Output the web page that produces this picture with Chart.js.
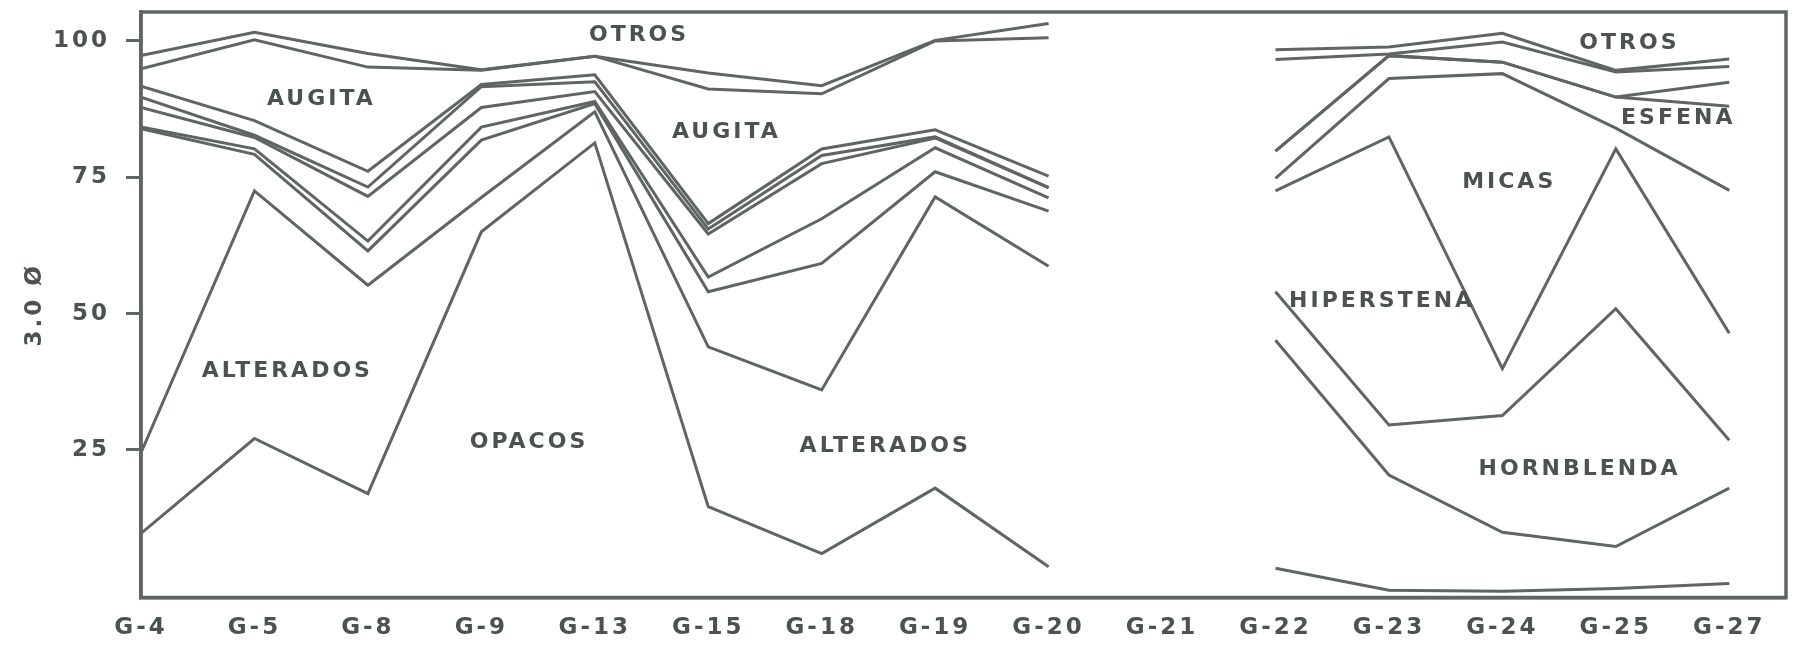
<!DOCTYPE html>
<html>
<head>
<meta charset="utf-8">
<script src="https://cdn.jsdelivr.net/npm/chart.js@4.4.0/dist/chart.umd.min.js"></script>
<style>
html,body{margin:0;padding:0;background:#ffffff;}
#wrap{width:1796px;height:649px;position:relative;}
</style>
</head>
<body>
<div id="wrap"><canvas id="c"></canvas></div>
<script>
// ---- data ----
const categories = ['G-4','G-5','G-8','G-9','G-13','G-15','G-18','G-19','G-20','G-21','G-22','G-23','G-24','G-25','G-27'];
const yTickValues = [25, 50, 75, 100];

// cumulative boundary lines (top to bottom); G-21 has no sample
const line1 = [97.3, 101.6, 97.7, 94.7, 97.2, 94.1, 91.8, 100.1, 103.2, null, 98.4, 98.9, 101.4, 94.6, 96.7];
const line2 = [94.9, 100.2, 95.2, 94.6, 97.2, 91.2, 90.3, 100.0, 100.6, null, 96.6, 97.6, 99.8, 94.3, 95.3];
const line3 = [91.7, 85.4, 76.1, 92.0, 93.8, 66.5, 80.2, 83.7, 75.2, null, 79.8, 97.3, 96.1, 89.7, 92.4];
const line4 = [89.7, 82.7, 73.2, 91.6, 92.5, 65.5, 79.0, 82.4, 73.1, null, 79.8, 97.3, 96.1, 89.7, 88.0];
const line5 = [87.8, 82.3, 71.5, 87.8, 90.7, 64.6, 77.5, 82.2, 73.1, null, 74.8, 93.1, 94.0, 84.0, 72.6];
const line6 = [84.2, 80.2, 63.3, 84.2, 88.9, 56.7, 67.4, 80.4, 71.2, null, 72.5, 82.4, 39.9, 80.2, 46.4];
const line7 = [83.9, 79.2, 61.5, 81.8, 88.5, 54.0, 59.2, 76.0, 68.8, null, 54.0, 29.6, 31.3, 50.9, 26.8];
const line8 = [24.5, 72.5, 55.2, 71.3, 87.0, 43.9, 36.0, 71.4, 58.7, null, 45.1, 20.4, 9.9, 7.3, 18.0];
const line9 = [9.7, 27.1, 17.0, 65.0, 81.3, 14.6, 6.0, 18.0, 3.6, null, 3.3, -0.7, -0.9, -0.4, 0.5];

const seriesList = [line1, line2, line3, line4, line5, line6, line7, line8, line9];

// area names, placed in data coordinates (category index, value)
const areaNames = ['OTROS','AUGITA','AUGITA','ALTERADOS','OPACOS','ALTERADOS','OTROS','ESFENA','MICAS','HIPERSTENA','HORNBLENDA'];
const areaNameX = [4.39, 1.59, 5.16, 1.29, 3.42, 6.56, 13.12, 13.55, 12.06, 10.94, 12.68];
const areaNameY = [101.0, 89.3, 83.25, 39.45, 26.35, 25.75, 99.65, 85.8, 74.15, 52.3, 21.5];

// ---- style ----
const INK = '#5f6565';
const TEXT = '#4c5252';
const FONT = {family: '"DejaVu Sans", sans-serif', size: 23, weight: 'bold'};

const datasets = seriesList.map((s, k) => ({
  label: 'line' + (k + 1),
  data: s.map((v, i) => ({x: i, y: v})),
  borderColor: INK,
  borderWidth: 3,
  pointRadius: 0,
  fill: false,
  tension: 0,
  spanGaps: false
}));

const framePlugin = {
  id: 'frameAndNames',
  beforeDraw(chart) {
    chart.ctx.letterSpacing = '3px';
  },
  afterDatasetsDraw(chart) {
    const {ctx, chartArea: a, scales} = chart;
    ctx.save();
    ctx.strokeStyle = INK;
    ctx.lineWidth = 3.5;
    ctx.strokeRect(a.left, a.top, a.right - a.left, a.bottom - a.top);
    ctx.font = 'bold 22px "DejaVu Sans", sans-serif';
    ctx.fillStyle = TEXT;
    ctx.textAlign = 'center';
    ctx.textBaseline = 'middle';
    ctx.letterSpacing = '3px';
    areaNames.forEach((t, i) => {
      ctx.fillText(t, scales.x.getPixelForValue(areaNameX[i]), scales.y.getPixelForValue(areaNameY[i]));
    });
    ctx.restore();
  }
};

new Chart(document.getElementById('c'), {
  type: 'line',
  data: {datasets},
  plugins: [framePlugin],
  options: {
    responsive: true,
    maintainAspectRatio: false,
    devicePixelRatio: 1,
    animation: false,
    events: [],
    layout: {padding: {top: 12, right: 10, left: 0, bottom: 0}},
    plugins: {legend: {display: false}, tooltip: {enabled: false}},
    scales: {
      x: {
        type: 'linear',
        min: 0,
        max: 14.5,
        afterBuildTicks: s => { s.ticks = categories.map((_, i) => ({value: i})); },
        afterFit: s => { s.height = 51.5; s.paddingLeft = 0; s.paddingRight = 0; },
        grid: {display: false, drawTicks: false},
        border: {display: true, width: 3.5, color: INK},
        ticks: {
          color: TEXT, font: FONT, padding: 17, maxRotation: 0, minRotation: 0, autoSkip: false,
          callback: v => categories[v]
        }
      },
      y: {
        type: 'linear',
        min: -2.05,
        max: 105.3,
        afterBuildTicks: s => { s.ticks = yTickValues.map(v => ({value: v})); },
        afterFit: s => { s.width = 141; s.paddingTop = 0; s.paddingBottom = 0; },
        grid: {drawOnChartArea: false, drawTicks: true, tickLength: 15, tickWidth: 3, color: INK},
        border: {display: true, width: 3.5, color: INK},
        ticks: {color: TEXT, font: FONT, padding: 16},
        title: {display: true, text: '3.0 Ø', color: TEXT, font: FONT, padding: {top: 21, bottom: 0}}
      }
    }
  }
});
</script>
</body>
</html>
